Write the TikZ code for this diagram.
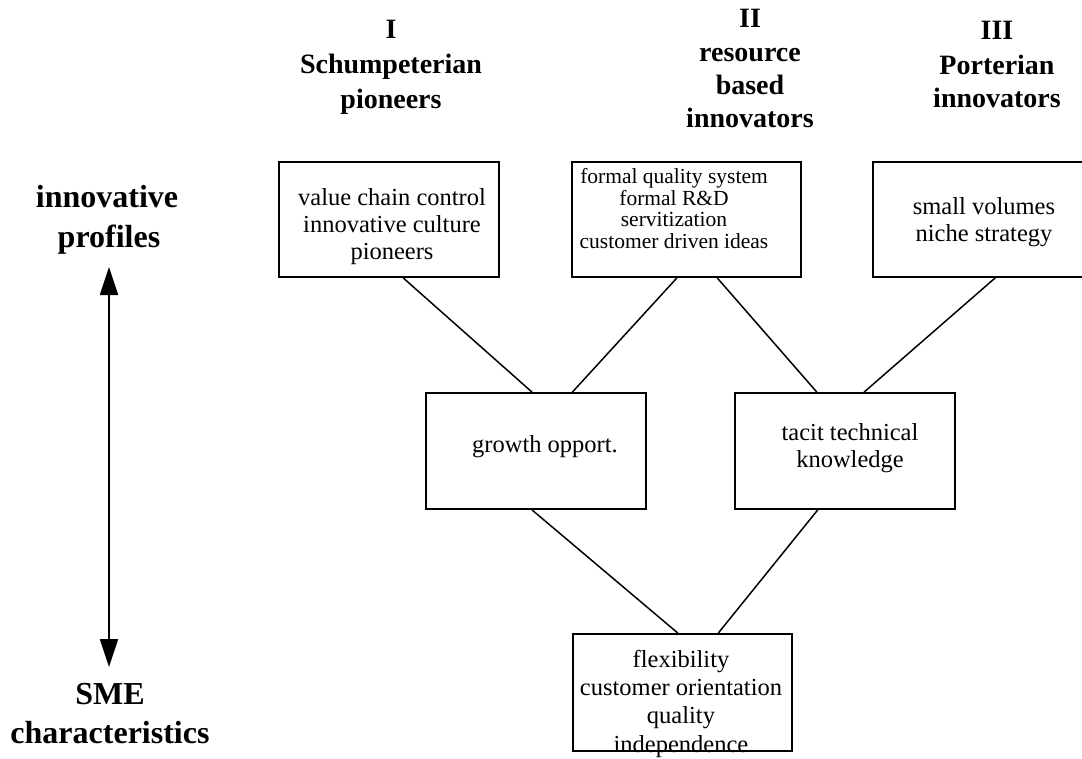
\documentclass[tikz,border=0pt]{standalone}
\usepackage{fontspec}
\setmainfont{Liberation Serif}
\usetikzlibrary{calc,arrows.meta}
\begin{document}
\begin{tikzpicture}[x=1pt,y=-1pt,
  box/.style={draw, line width=1.8pt, minimum width=220pt, inner sep=0pt},
  body/.style={font=\fontsize{24.5}{27}\selectfont, anchor=base, inner sep=0pt},
  smalltxt/.style={font=\fontsize{21.5}{23}\selectfont, anchor=base, inner sep=0pt},
  head/.style={font=\bfseries\fontsize{28}{33}\selectfont, anchor=base, inner sep=0pt},
  side/.style={font=\bfseries\fontsize{32}{38}\selectfont, anchor=base, inner sep=0pt},
  link/.style={line width=1.5pt},
  axis/.style={line width=1.8pt, {Triangle[width=18pt,length=28pt]}-{Triangle[width=18pt,length=28pt]}}]
\clip (0,0) rectangle (1082,758);
% column headings
\node[head] (h1a) at (391,38) {I};
\node[head] (h1b) at (391,73) {Schumpeterian};
\node[head] (h1c) at (391,108) {pioneers};
\node[head] (h2a) at (750,27) {II};
\node[head] (h2b) at (750,61) {resource};
\node[head] (h2c) at (750,94) {based};
\node[head] (h2d) at (750,127) {innovators};
\node[head] (h3a) at (997,39) {III};
\node[head] (h3b) at (997,74) {Porterian};
\node[head] (h3c) at (997,107) {innovators};
% side labels
\node[side] (l1) at (107,207) {innovative};
\node[side] (l2) at (109,247) {profiles};
\node[side] (l3) at (110,704) {SME};
\node[side] (l4) at (110,743) {characteristics};
\coordinate (atop) at (109,267);
\coordinate (abot) at (109,667);
\draw[axis] (atop) -- (abot);
% boxes
\node[box, minimum height=115pt] (b1) at (389,219.5) {};
\node[box, minimum width=229pt, minimum height=115pt] (b2) at (686.5,219.5) {};
\node[box, minimum height=115pt] (b3) at (983,219.5) {};
\node[box, minimum height=116pt] (g) at (536,451) {};
\node[box, minimum height=116pt] (t) at (845,451) {};
\node[box, minimum width=219pt, minimum height=117pt] (s) at (682.5,692.5) {};
% box texts
\node[body] (b1a) at (392,205) {value chain control};
\node[body] (b1b) at (392,232) {innovative culture};
\node[body] (b1c) at (392,259) {pioneers};
\node[smalltxt] (b2a) at (674,183) {formal quality system};
\node[smalltxt] (b2b) at (674,205) {formal R\&D};
\node[smalltxt] (b2c) at (674,226.5) {servitization};
\node[smalltxt] (b2d) at (674,248) {customer driven ideas};
\node[body] (b3a) at (984,214) {small volumes};
\node[body] (b3b) at (984,241) {niche strategy};
\node[body] (ga) at (545,452) {growth opport.};
\node[body] (ta) at (850,440) {tacit technical};
\node[body] (tb) at (850,467) {knowledge};
\node[body] (sa) at (681,667) {flexibility};
\node[body] (sb) at (681,695) {customer orientation};
\node[body] (sc) at (681,723.5) {quality};
\node[body] (sd) at (681,752) {independence};
% connectors
\draw[link] ($(b1.south west)!0.564!(b1.south east)$) -- ($(g.north west)!0.482!(g.north east)$);
\draw[link] ($(b2.south west)!0.4585!(b2.south east)$) -- ($(g.north west)!0.664!(g.north east)$);
\draw[link] ($(b2.south west)!0.633!(b2.south east)$) -- ($(t.north west)!0.373!(t.north east)$);
\draw[link] ($(b3.south west)!0.555!(b3.south east)$) -- ($(t.north west)!0.586!(t.north east)$);
\draw[link] ($(g.south west)!0.482!(g.south east)$) -- ($(s.north west)!0.479!(s.north east)$);
\draw[link] ($(t.south west)!0.377!(t.south east)$) -- ($(s.north west)!0.662!(s.north east)$);
\end{tikzpicture}
\end{document}
